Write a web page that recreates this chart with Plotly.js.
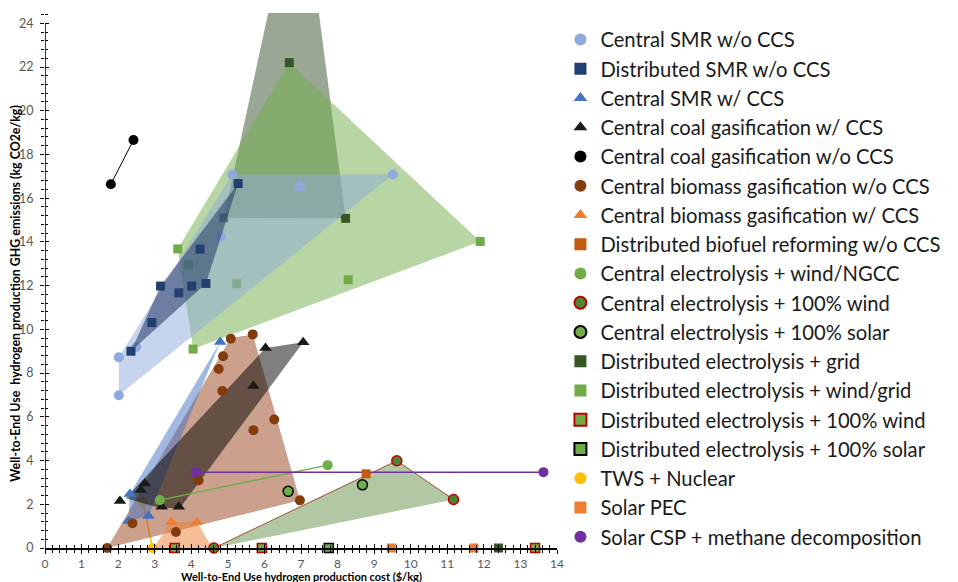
<!DOCTYPE html>
<html><head><meta charset="utf-8">
<script src="https://cdn.plot.ly/plotly-3.0.1.min.js"></script>
<style>html,body{margin:0;padding:0;background:#fff}#chart{width:958px;height:582px}</style>
</head><body><div id="chart"></div>
<script>
// ---------- series data (cost $/kg, GHG kg CO2e/kg) ----------
const smrX = [2.02, 2.02, 2.49, 4.80, 5.12, 6.97, 9.51];
const smrY = [6.99, 8.72, 9.18, 14.25, 17.08, 16.53, 17.08];
const smrPolyX = [2.02, 2.02, 5.12, 9.51];
const smrPolyY = [6.99, 8.72, 17.08, 17.08];

const dsmrX = [2.35, 2.92, 3.16, 3.66, 4.01, 4.24, 4.40, 5.28];
const dsmrY = [9.00, 10.31, 11.98, 11.67, 11.98, 13.67, 12.10, 16.67];
const dsmrPolyX = [2.35, 3.16, 5.28, 4.40];
const dsmrPolyY = [9.00, 11.98, 16.67, 12.10];

const smrCcsX = [2.28, 2.32, 2.83, 4.79];
const smrCcsY = [1.23, 2.47, 1.46, 9.42];
const smrCcsPolyX = [2.28, 2.32, 4.79, 2.83];
const smrCcsPolyY = [1.23, 2.47, 9.42, 1.46];

const coalCcsX = [2.05, 2.62, 2.73, 3.19, 3.66, 5.70, 6.03, 7.06];
const coalCcsY = [2.15, 2.65, 2.95, 1.89, 1.89, 7.41, 9.15, 9.41];
const coalCcsPolyX = [2.21, 6.03, 7.06, 3.69, 3.14];
const coalCcsPolyY = [2.28, 9.15, 9.41, 1.83, 1.83];

const coalX = [1.80, 2.42];
const coalY = [16.64, 18.66];

const bioX = [1.70, 2.39, 3.58, 4.20, 4.75, 4.85, 4.87, 5.08, 5.68, 5.70, 6.27, 6.97];
const bioY = [0.00, 1.13, 0.73, 3.09, 8.19, 7.18, 8.77, 9.57, 9.77, 5.39, 5.88, 2.18];
const bioPolyX = [1.70, 5.08, 5.68, 6.97];
const bioPolyY = [0.00, 9.60, 9.77, 2.18];

const bioCcsX = [3.46, 4.15];
const bioCcsY = [1.19, 1.19];
const bioCcsPolyX = [2.96, 3.46, 4.15, 4.58];
const bioCcsPolyY = [0.00, 1.19, 1.19, 0.00];

const biofuelX = [8.78];
const biofuelY = [3.39];

const ngccX = [3.14, 7.73];
const ngccY = [2.19, 3.79];

const cWindX = [4.62, 9.62, 11.17];
const cWindY = [0.00, 3.99, 2.22];

const cSolarX = [6.65, 8.68];
const cSolarY = [2.59, 2.89];

const dGridX = [4.89, 6.68, 8.22, 12.40];
const dGridY = [15.10, 22.20, 15.08, 0.00];
const dGridPolyX = [4.89, 6.30, 7.37, 8.22];
const dGridPolyY = [15.10, 26.00, 26.00, 15.08];

const dWindGridX = [3.63, 3.92, 4.05, 5.24, 8.29, 11.90];
const dWindGridY = [13.68, 12.95, 9.10, 12.09, 12.27, 14.02];
const dWindGridPolyX = [4.05, 3.63, 6.68, 11.90];
const dWindGridPolyY = [9.10, 13.68, 22.20, 14.02];

const dWindX = [3.55, 5.93, 13.40];
const dWindY = [0, 0, 0];

const dSolarX = [7.76];
const dSolarY = [0];

const twsX = [2.94, 2.68];
const twsY = [0.00, 2.10];

const pecX = [9.47, 11.73];
const pecY = [0, 0];

const cspX = [4.12, 13.63];
const cspY = [3.47, 3.47];

const xTicks = [0,1,2,3,4,5,6,7,8,9,10,11,12,13,14];
const yTicks = [0,2,4,6,8,10,12,14,16,18,20,22,24];

// ---------- traces ----------
const traces = [];
function poly(xs, ys, fill, line) {
  traces.push({type:'scatter', mode:'lines', x: xs, y: ys, fill:'toself', fillcolor: fill,
    line: line || {width:0, color:'rgba(0,0,0,0)'}, hoverinfo:'skip', showlegend:false});
}
function link(xs, ys, color, w) {
  traces.push({type:'scatter', mode:'lines', x: xs, y: ys, line:{color: color, width: w},
    hoverinfo:'skip', showlegend:false, cliponaxis:false});
}
function pts(rank, name, xs, ys, symbol, color, size, lineColor, lineWidth) {
  traces.push({type:'scatter', mode:'markers', name: name, x: xs, y: ys, legendrank: rank,
    cliponaxis:false,
    marker:{symbol: symbol, color: color, size: size,
      line:{color: lineColor || color, width: lineWidth || 0}}});
}

poly(dGridPolyX, dGridPolyY, 'rgba(70,95,60,0.55)');
poly(dWindGridPolyX, dWindGridPolyY, 'rgba(112,173,71,0.5)');
pts(13, 'Distributed electrolysis + wind/grid', dWindGridX, dWindGridY, 'square', '#70AD47', 9);
pts(12, 'Distributed electrolysis + grid', dGridX, dGridY, 'square', '#375623', 9);
pts(1, 'Central SMR w/o CCS', smrX, smrY, 'circle', '#8FAADC', 10);
link(twsX, twsY, '#FFC000', 1.5);
pts(16, 'TWS + Nuclear', twsX, twsY, 'circle', '#FFC000', 10);

poly(smrPolyX, smrPolyY, 'rgba(143,170,220,0.5)');
poly(dsmrPolyX, dsmrPolyY, 'rgba(32,56,100,0.55)');
poly(bioPolyX, bioPolyY, 'rgba(160,82,45,0.55)');
poly(bioCcsPolyX, bioCcsPolyY, 'rgba(237,125,49,0.5)');
poly(smrCcsPolyX, smrCcsPolyY, 'rgba(68,114,196,0.5)');
poly(coalCcsPolyX, coalCcsPolyY, 'rgba(0,0,0,0.5)');
poly(cWindX, cWindY, 'rgba(84,130,53,0.45)', {color:'#A0522D', width:1});

link(coalX, coalY, '#000000', 1);
link(ngccX, ngccY, '#70AD47', 1.5);
link(cspX, cspY, '#7030A0', 1.5);

pts(2, 'Distributed SMR w/o CCS', dsmrX, dsmrY, 'square', '#223F72', 9);
pts(3, 'Central SMR w/ CCS', smrCcsX, smrCcsY, 'triangle-up', '#4472C4', 11);
pts(4, 'Central coal gasification w/ CCS', coalCcsX, coalCcsY, 'triangle-up', '#1A1A1A', 11);
pts(5, 'Central coal gasification w/o CCS', coalX, coalY, 'circle', '#000000', 10);
pts(6, 'Central biomass gasification w/o CCS', bioX, bioY, 'circle', '#843C0C', 10);
pts(7, 'Central biomass gasification w/ CCS', bioCcsX, bioCcsY, 'triangle-up', '#ED7D31', 11);
pts(8, 'Distributed biofuel reforming w/o CCS', biofuelX, biofuelY, 'square', '#C55A11', 9);
pts(9, 'Central electrolysis + wind/NGCC', ngccX, ngccY, 'circle', '#70AD47', 10);
pts(10, 'Central electrolysis + 100% wind', cWindX, cWindY, 'circle', '#548235', 10, '#C00000', 1.5);
pts(11, 'Central electrolysis + 100% solar', cSolarX, cSolarY, 'circle', '#70AD47', 10, '#000000', 1.5);
pts(14, 'Distributed electrolysis + 100% wind', dWindX, dWindY, 'square', '#70AD47', 9, '#C00000', 1.5);
pts(15, 'Distributed electrolysis + 100% solar', dSolarX, dSolarY, 'square', '#70AD47', 9, '#000000', 1.5);
pts(17, 'Solar PEC', pecX, pecY, 'square', '#ED7D31', 9);
pts(18, 'Solar CSP + methane decomposition', cspX, cspY, 'circle', '#7030A0', 10);

// empty trace to activate the crossing-tick overlay axes
traces.push({type:'scatter', mode:'markers', x:[], y:[], xaxis:'x2', yaxis:'y2', showlegend:false, hoverinfo:'skip'});

const tickFont = {family:'Lato, "Open Sans", sans-serif', size:12, color:'#595959'};
const layout = {
  width: 958, height: 582,
  margin: {l:45, r:401, t:13, b:34},
  paper_bgcolor:'#ffffff', plot_bgcolor:'#ffffff',
  showlegend: true,
  font: {family:'Lato, "Open Sans", sans-serif'},
  xaxis: {range:[0,14], tickvals:xTicks, ticktext:xTicks.map(String), ticks:'outside', ticklen:4, tickwidth:1,
    tickcolor:'#000', minor:{dtick:0.2, tick0:0, ticks:'outside', ticklen:3, tickcolor:'#000'},
    showline:true, linecolor:'#000', linewidth:1.5, showgrid:false, zeroline:false, tickfont:tickFont,
    fixedrange:true},
  yaxis: {range:[0,24.47], tickvals:yTicks, ticktext:yTicks.map(String), ticks:'outside', ticklen:4, tickwidth:1,
    tickcolor:'#000', minor:{dtick:0.4, tick0:0, ticks:'outside', ticklen:3, tickcolor:'#000'},
    showline:false, showgrid:false, zeroline:false, tickfont:{family:'Lato, "Open Sans", sans-serif', size:12.5, color:'#595959'},
    ticklabelstandoff:4, fixedrange:true},
  xaxis2: {range:[0,14], overlaying:'x', anchor:'y2', side:'bottom', tickvals:xTicks, ticks:'inside', ticklen:4,
    tickcolor:'#000', minor:{dtick:0.2, tick0:0, ticks:'inside', ticklen:3, tickcolor:'#000'},
    showticklabels:false, showline:false, showgrid:false, zeroline:false},
  yaxis2: {range:[0,24.47], overlaying:'y', anchor:'x2', side:'left', tickvals:yTicks, ticks:'inside', ticklen:4,
    tickcolor:'#000', minor:{dtick:0.4, tick0:0, ticks:'inside', ticklen:3, tickcolor:'#000'},
    showticklabels:false, showline:false, showgrid:false, zeroline:false},
  shapes: [{type:'line', xref:'x', yref:'y', x0:0, x1:0, y0:0, y1:24, line:{color:'#000', width:1.5}, layer:'above'}],
  legend: {x:0.585, xref:'container', xanchor:'left', y:0.966, yref:'container', yanchor:'top',
    font:{family:'Lato, "Open Sans", sans-serif', size:20.2, color:'#1a1a1a'},
    itemsizing:'constant', traceorder:'normal', maxheight:0.99, bgcolor:'rgba(0,0,0,0)'},
  annotations: [
    {text:'<b>Well-to-End Use hydrogen production cost ($/kg)</b>', xref:'paper', yref:'paper', x:0.5, y:-0.0525,
      xanchor:'center', yanchor:'middle', showarrow:false, font:{size:11, color:'#000'}},
    {text:'<b>Well-to-End Use  hydrogen production GHG emissions (kg CO2e/kg)</b>', xref:'paper', yref:'paper',
      x:-0.058, y:0.476, xanchor:'center', yanchor:'middle', textangle:-90, showarrow:false, font:{size:12.4, color:'#000'}}
  ]
};
Plotly.newPlot('chart', traces, layout, {displayModeBar:false, staticPlot:true});
</script></body></html>
